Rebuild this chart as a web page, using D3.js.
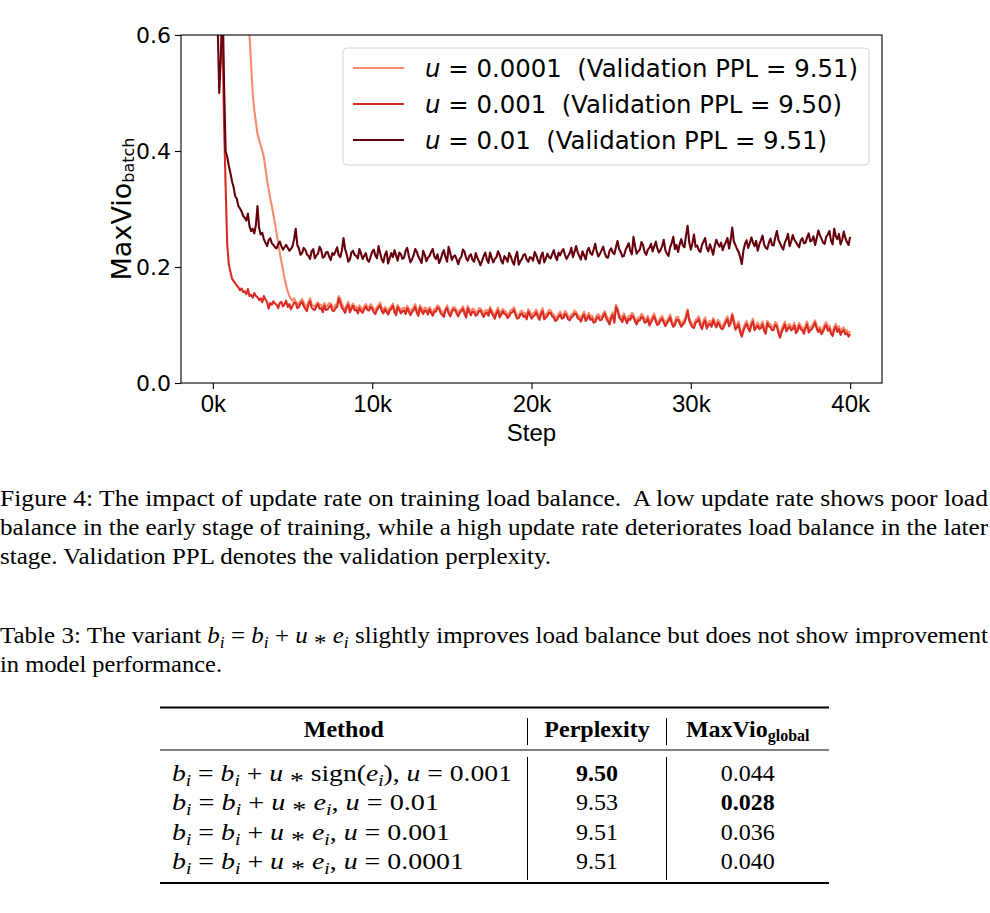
<!DOCTYPE html>
<html>
<head>
<meta charset="utf-8">
<script src="https://cdn.jsdelivr.net/npm/d3@7"></script>
<style>
  html, body { margin: 0; padding: 0; background: #fff; }
  svg { display: block; }
  text { white-space: pre; }
</style>
</head>
<body>
<div id="chart-area"></div>
<script>
// logged every 100 steps
const steps = d3.range(0, 40001, 100);

// u = 0.0001
const vioU0001 = [
  1.65, 1.60, 1.52, 1.45, 1.38, 1.30, 1.24, 1.18, 1.11, 1.05,
  0.99, 0.95, 0.90, 0.87, 0.83, 0.80, 0.76, 0.73, 0.70, 0.68,
  0.66, 0.64, 0.62, 0.60, 0.55, 0.50, 0.47, 0.45, 0.43, 0.42,
  0.41, 0.40, 0.39, 0.37, 0.35, 0.335, 0.318, 0.305, 0.29, 0.275,
  0.258, 0.242, 0.224, 0.210, 0.195, 0.181, 0.168, 0.158, 0.150, 0.145,
  0.142, 0.146,
  0.141, 0.135, 0.137, 0.142, 0.145, 0.139, 0.134, 0.131, 0.140, 0.146, 0.136, 0.133, 0.132, 0.137, 0.139, 0.134, 0.135, 0.129, 0.138, 0.132,
  0.133, 0.138, 0.137, 0.131, 0.130, 0.135, 0.136, 0.150, 0.145, 0.136, 0.131, 0.127, 0.135, 0.140, 0.128, 0.133, 0.137, 0.131, 0.132, 0.126,
  0.134, 0.129, 0.127, 0.132, 0.136, 0.131, 0.130, 0.136, 0.133, 0.127, 0.125, 0.131, 0.134, 0.139, 0.129, 0.125, 0.131, 0.128, 0.124, 0.130,
  0.132, 0.137, 0.127, 0.123, 0.135, 0.130, 0.125, 0.129, 0.130, 0.124, 0.133, 0.128, 0.122, 0.127, 0.131, 0.136, 0.126, 0.121, 0.134, 0.129,
  0.124, 0.130, 0.129, 0.123, 0.131, 0.126, 0.121, 0.128, 0.128, 0.134, 0.132, 0.125, 0.123, 0.119, 0.129, 0.134, 0.125, 0.120, 0.127, 0.131,
  0.130, 0.125, 0.120, 0.126, 0.128, 0.132, 0.124, 0.118, 0.133, 0.127, 0.122, 0.128, 0.127, 0.121, 0.123, 0.129, 0.129, 0.124, 0.119, 0.125,
  0.126, 0.121, 0.131, 0.126, 0.121, 0.116, 0.125, 0.130, 0.118, 0.123, 0.128, 0.124, 0.123, 0.117, 0.120, 0.126, 0.127, 0.131, 0.122, 0.116,
  0.117, 0.123, 0.125, 0.119, 0.121, 0.115, 0.127, 0.123, 0.116, 0.120, 0.122, 0.127, 0.119, 0.114, 0.124, 0.129, 0.115, 0.118, 0.121, 0.126,
  0.125, 0.120, 0.118, 0.112, 0.114, 0.119, 0.123, 0.116, 0.117, 0.124, 0.121, 0.115, 0.113, 0.118, 0.120, 0.125, 0.123, 0.117, 0.115, 0.111,
  0.118, 0.123, 0.112, 0.116, 0.121, 0.114, 0.116, 0.109, 0.110, 0.117, 0.119, 0.113, 0.114, 0.120, 0.124, 0.116, 0.111, 0.106, 0.117, 0.122,
  0.109, 0.135, 0.129, 0.118, 0.115, 0.110, 0.120, 0.114, 0.108, 0.116, 0.114, 0.121, 0.118, 0.111, 0.106, 0.113, 0.113, 0.119, 0.117, 0.109,
  0.110, 0.116, 0.104, 0.109, 0.115, 0.120, 0.111, 0.105, 0.107, 0.113, 0.116, 0.109, 0.103, 0.108, 0.112, 0.118, 0.108, 0.102, 0.105, 0.114,
  0.114, 0.108, 0.102, 0.106, 0.109, 0.117, 0.127, 0.112, 0.106, 0.101, 0.100, 0.109, 0.111, 0.115, 0.104, 0.098, 0.108, 0.113, 0.099, 0.105,
  0.107, 0.102, 0.112, 0.106, 0.101, 0.109, 0.105, 0.099, 0.098, 0.104, 0.110, 0.115, 0.103, 0.108, 0.120, 0.109, 0.097, 0.101, 0.106, 0.092,
  0.086, 0.095, 0.102, 0.107, 0.099, 0.094, 0.105, 0.111, 0.096, 0.100, 0.104, 0.098, 0.100, 0.106, 0.095, 0.090, 0.107, 0.103, 0.101, 0.096,
  0.097, 0.105, 0.103, 0.091, 0.083, 0.093, 0.099, 0.106, 0.094, 0.099, 0.102, 0.096, 0.098, 0.104, 0.091, 0.095, 0.104, 0.098, 0.096, 0.090,
  0.100, 0.106, 0.092, 0.096, 0.098, 0.103, 0.108, 0.099, 0.093, 0.097, 0.089, 0.094, 0.101, 0.105, 0.095, 0.099, 0.090, 0.086, 0.097, 0.102,
  0.093, 0.098, 0.088, 0.094, 0.096, 0.089, 0.091, 0.085, 0.089
];

// u = 0.001
const vioU001 = [
  0.95, 0.88, 0.85, 0.80, 0.76, 0.70, 0.62, 0.45, 0.34, 0.24,
  0.205, 0.192, 0.180, 0.176, 0.172, 0.168, 0.165, 0.160, 0.163, 0.157,
  0.158, 0.153, 0.162, 0.150, 0.152, 0.147, 0.155, 0.150, 0.148, 0.143,
  0.146, 0.139, 0.150, 0.144, 0.140, 0.128, 0.138, 0.135, 0.141, 0.137,
  0.135, 0.129, 0.138, 0.140, 0.132, 0.136, 0.142, 0.131, 0.136, 0.127,
  0.133, 0.139,
  0.138, 0.129, 0.131, 0.137, 0.140, 0.133, 0.128, 0.124, 0.135, 0.141, 0.130, 0.127, 0.126, 0.132, 0.136, 0.128, 0.129, 0.122, 0.133, 0.126,
  0.127, 0.131, 0.134, 0.125, 0.124, 0.129, 0.131, 0.146, 0.138, 0.130, 0.126, 0.121, 0.130, 0.135, 0.122, 0.128, 0.133, 0.125, 0.127, 0.120,
  0.129, 0.124, 0.121, 0.127, 0.132, 0.126, 0.125, 0.131, 0.128, 0.122, 0.119, 0.126, 0.130, 0.134, 0.124, 0.120, 0.127, 0.123, 0.118, 0.125,
  0.128, 0.133, 0.122, 0.117, 0.131, 0.126, 0.120, 0.124, 0.125, 0.119, 0.129, 0.123, 0.117, 0.122, 0.126, 0.131, 0.121, 0.116, 0.130, 0.124,
  0.119, 0.125, 0.124, 0.118, 0.127, 0.121, 0.116, 0.123, 0.123, 0.130, 0.128, 0.120, 0.118, 0.114, 0.125, 0.129, 0.120, 0.115, 0.122, 0.127,
  0.126, 0.120, 0.115, 0.121, 0.124, 0.128, 0.119, 0.113, 0.129, 0.122, 0.117, 0.123, 0.122, 0.116, 0.118, 0.124, 0.125, 0.119, 0.114, 0.120,
  0.121, 0.116, 0.127, 0.121, 0.116, 0.111, 0.120, 0.125, 0.113, 0.118, 0.124, 0.119, 0.118, 0.112, 0.115, 0.121, 0.122, 0.126, 0.117, 0.111,
  0.112, 0.118, 0.120, 0.114, 0.116, 0.110, 0.123, 0.118, 0.111, 0.115, 0.117, 0.122, 0.114, 0.109, 0.119, 0.124, 0.110, 0.113, 0.116, 0.121,
  0.121, 0.115, 0.113, 0.107, 0.109, 0.114, 0.118, 0.111, 0.112, 0.119, 0.116, 0.110, 0.108, 0.113, 0.115, 0.120, 0.119, 0.112, 0.110, 0.106,
  0.113, 0.118, 0.107, 0.111, 0.116, 0.109, 0.111, 0.104, 0.105, 0.112, 0.114, 0.108, 0.109, 0.115, 0.120, 0.111, 0.106, 0.101, 0.112, 0.117,
  0.104, 0.131, 0.126, 0.113, 0.110, 0.105, 0.115, 0.109, 0.103, 0.111, 0.109, 0.116, 0.113, 0.106, 0.101, 0.108, 0.108, 0.114, 0.112, 0.104,
  0.105, 0.111, 0.099, 0.104, 0.110, 0.115, 0.106, 0.100, 0.102, 0.108, 0.111, 0.104, 0.098, 0.103, 0.107, 0.113, 0.103, 0.097, 0.100, 0.109,
  0.109, 0.103, 0.097, 0.101, 0.104, 0.112, 0.124, 0.108, 0.101, 0.096, 0.095, 0.104, 0.106, 0.110, 0.099, 0.093, 0.103, 0.108, 0.094, 0.100,
  0.102, 0.097, 0.108, 0.101, 0.096, 0.104, 0.100, 0.094, 0.093, 0.099, 0.105, 0.110, 0.098, 0.103, 0.117, 0.104, 0.092, 0.096, 0.101, 0.087,
  0.080, 0.090, 0.097, 0.102, 0.094, 0.089, 0.100, 0.106, 0.091, 0.095, 0.099, 0.093, 0.095, 0.101, 0.090, 0.085, 0.103, 0.098, 0.096, 0.091,
  0.092, 0.100, 0.098, 0.086, 0.078, 0.088, 0.094, 0.101, 0.089, 0.094, 0.097, 0.091, 0.093, 0.099, 0.086, 0.090, 0.099, 0.093, 0.091, 0.085,
  0.095, 0.101, 0.087, 0.091, 0.093, 0.098, 0.104, 0.094, 0.088, 0.092, 0.084, 0.089, 0.096, 0.100, 0.090, 0.094, 0.085, 0.081, 0.092, 0.097,
  0.088, 0.093, 0.083, 0.089, 0.091, 0.084, 0.086, 0.080, 0.084
];

// u = 0.01
const vioU01 = [
  0.98, 0.90, 0.78, 0.62, 0.50, 0.56, 0.68, 0.52, 0.40, 0.39,
  0.375, 0.362, 0.348, 0.338, 0.322, 0.318, 0.305, 0.301, 0.296, 0.288,
  0.285, 0.280, 0.292, 0.270, 0.262, 0.266, 0.258, 0.272, 0.305, 0.268,
  0.256, 0.259, 0.248, 0.242, 0.236, 0.246, 0.250, 0.241, 0.238, 0.234,
  0.232, 0.239, 0.244, 0.236, 0.230, 0.234, 0.238, 0.233, 0.228, 0.231,
  0.236, 0.248,
  0.266, 0.238, 0.232, 0.221, 0.224, 0.233, 0.230, 0.222, 0.219, 0.214, 0.227, 0.231, 0.215, 0.220, 0.223, 0.235, 0.229, 0.216, 0.218, 0.225,
  0.226, 0.218, 0.212, 0.224, 0.221, 0.227, 0.234, 0.220, 0.217, 0.229, 0.250, 0.231, 0.222, 0.209, 0.213, 0.225, 0.228, 0.221, 0.219, 0.215,
  0.231, 0.223, 0.214, 0.219, 0.224, 0.212, 0.209, 0.218, 0.226, 0.230, 0.220, 0.215, 0.236, 0.224, 0.213, 0.208, 0.221, 0.227, 0.206, 0.215,
  0.224, 0.217, 0.229, 0.220, 0.211, 0.225, 0.222, 0.214, 0.216, 0.228, 0.233, 0.219, 0.208, 0.213, 0.220, 0.231, 0.226, 0.218, 0.213, 0.207,
  0.228, 0.221, 0.210, 0.216, 0.219, 0.226, 0.231, 0.218, 0.214, 0.222, 0.207, 0.213, 0.223, 0.229, 0.217, 0.209, 0.235, 0.224, 0.212, 0.218,
  0.220, 0.213, 0.205, 0.214, 0.218, 0.230, 0.226, 0.215, 0.211, 0.219, 0.222, 0.212, 0.209, 0.224, 0.216, 0.210, 0.203, 0.211, 0.219, 0.225,
  0.213, 0.207, 0.225, 0.216, 0.208, 0.214, 0.217, 0.227, 0.221, 0.211, 0.206, 0.219, 0.215, 0.209, 0.224, 0.218, 0.210, 0.204, 0.218, 0.226,
  0.204, 0.210, 0.214, 0.221, 0.222, 0.213, 0.209, 0.217, 0.216, 0.211, 0.226, 0.220, 0.211, 0.206, 0.219, 0.225, 0.208, 0.215, 0.223, 0.217,
  0.215, 0.222, 0.229, 0.218, 0.212, 0.225, 0.220, 0.227, 0.231, 0.221, 0.214, 0.219, 0.224, 0.233, 0.217, 0.226, 0.236, 0.225, 0.219, 0.213,
  0.227, 0.220, 0.213, 0.228, 0.233, 0.224, 0.221, 0.230, 0.240, 0.226, 0.218, 0.223, 0.229, 0.235, 0.224, 0.217, 0.216, 0.228, 0.232, 0.225,
  0.222, 0.234, 0.245, 0.231, 0.226, 0.218, 0.219, 0.229, 0.235, 0.241, 0.228, 0.222, 0.252, 0.236, 0.223, 0.227, 0.230, 0.243, 0.238, 0.226,
  0.221, 0.230, 0.233, 0.240, 0.227, 0.235, 0.244, 0.232, 0.225, 0.229, 0.236, 0.247, 0.229, 0.223, 0.219, 0.234, 0.241, 0.252, 0.231, 0.238,
  0.226, 0.239, 0.248, 0.237, 0.234, 0.255, 0.271, 0.243, 0.230, 0.241, 0.256, 0.235, 0.237, 0.229, 0.226, 0.238, 0.244, 0.250, 0.233, 0.227,
  0.239, 0.231, 0.221, 0.236, 0.247, 0.240, 0.235, 0.242, 0.229, 0.237, 0.243, 0.250, 0.232, 0.246, 0.268, 0.244, 0.238, 0.231, 0.226, 0.217,
  0.205, 0.228, 0.240, 0.246, 0.233, 0.241, 0.251, 0.242, 0.236, 0.245, 0.228, 0.239, 0.246, 0.254, 0.239, 0.233, 0.231, 0.242, 0.249, 0.238,
  0.237, 0.251, 0.262, 0.247, 0.241, 0.235, 0.230, 0.242, 0.248, 0.257, 0.236, 0.244, 0.255, 0.247, 0.243, 0.238, 0.234, 0.246, 0.250, 0.241,
  0.242, 0.251, 0.258, 0.244, 0.246, 0.253, 0.238, 0.249, 0.263, 0.255, 0.249, 0.242, 0.240, 0.252, 0.256, 0.262, 0.245, 0.239, 0.266, 0.253,
  0.248, 0.257, 0.239, 0.247, 0.261, 0.250, 0.243, 0.238, 0.252
];

const seriesU = ["0.0001", "0.001", "0.01"];
const seriesPPL = ["9.51", "9.50", "9.51"];
const seriesColors = ["#f98a6b", "#d92b24", "#67000d"];
const xTickValues = [0, 10000, 20000, 30000, 40000];
const yTickValues = [0, 0.2, 0.4, 0.6];

const figCaption = [
  "Figure 4: The impact of update rate on training load balance.  A low update rate shows poor load",
  "balance in the early stage of training, while a high update rate deteriorates load balance in the later",
  "stage. Validation PPL denotes the validation perplexity."
];
const tableCaption = [
  "Table 3: The variant b_i = b_i + u * e_i slightly improves load balance but does not show improvement",
  "in model performance."
];
const tableMethods = [
  "b_i = b_i + u * sign(e_i), u = 0.001",
  "b_i = b_i + u * e_i, u = 0.01",
  "b_i = b_i + u * e_i, u = 0.001",
  "b_i = b_i + u * e_i, u = 0.0001"
];
const tablePerplexity = ["9.50", "9.53", "9.51", "9.51"];
const tableMaxVio = ["0.044", "0.028", "0.036", "0.040"];
const boldPerplexity = [true, false, false, false];
const boldMaxVio = [false, true, false, false];

// first installed family out of a list, checked against monospace metrics
function pickFont(cands, generic) {
  const ctx = document.createElement("canvas").getContext("2d");
  const probe = "Figure 4: The impact of update rate 0123456789";
  ctx.font = "40px monospace";
  const mono = ctx.measureText(probe).width;
  for (const f of cands) {
    ctx.font = `40px '${f}', monospace`;
    if (Math.abs(ctx.measureText(probe).width - mono) > 0.5) return `'${f}', ${generic}`;
  }
  return generic;
}

const sans = "'DejaVu Sans', sans-serif";
const serif = pickFont(["Liberation Serif", "Times New Roman", "Tinos", "Nimbus Roman", "FreeSerif", "DejaVu Serif"], "serif");
const narrow = pickFont(["Liberation Sans Narrow", "Arial Narrow", "Nimbus Sans Narrow", "Liberation Sans", "Arial"], "sans-serif");

const W = 990, H = 913;
const plot = { left: 181, right: 882, top: 35, bottom: 383 };

const svg = d3.select("#chart-area").append("svg")
  .attr("width", W).attr("height", H)
  .style("background", "#fff");

const x = d3.scaleLinear().domain([-2000, 42000]).range([plot.left, plot.right]);
const y = d3.scaleLinear().domain([0, 0.6]).range([plot.bottom, plot.top]);

svg.append("clipPath").attr("id", "plot-clip")
  .append("rect")
  .attr("x", plot.left).attr("y", plot.top)
  .attr("width", plot.right - plot.left).attr("height", plot.bottom - plot.top);

const line = d3.line()
  .x((d, i) => x(steps[i]))
  .y(d => y(d));

const allSeries = [vioU0001, vioU001, vioU01];
svg.append("g").attr("clip-path", "url(#plot-clip)")
  .selectAll("path")
  .data(allSeries)
  .join("path")
  .attr("d", line)
  .attr("fill", "none")
  .attr("stroke", (d, i) => seriesColors[i])
  .attr("stroke-width", 2.1)
  .attr("stroke-linejoin", "round");

// frame
svg.append("rect")
  .attr("x", plot.left).attr("y", plot.top)
  .attr("width", plot.right - plot.left).attr("height", plot.bottom - plot.top)
  .attr("fill", "none").attr("stroke", "#000").attr("stroke-width", 1.1);

// axes
const xAxisG = svg.append("g")
  .attr("transform", `translate(0,${plot.bottom})`)
  .call(d3.axisBottom(x).tickValues(xTickValues).tickFormat(d => (d / 1000) + "k").tickSize(6).tickPadding(6));
xAxisG.select(".domain").remove();
xAxisG.selectAll("text").attr("font-family", narrow).attr("font-size", 24).attr("fill", "#000");

const yAxisG = svg.append("g")
  .attr("transform", `translate(${plot.left},0)`)
  .call(d3.axisLeft(y).tickValues(yTickValues).tickFormat(d3.format(".1f")).tickSize(6).tickPadding(4));
yAxisG.select(".domain").remove();
yAxisG.selectAll("text").attr("font-family", sans).attr("font-size", 22).attr("fill", "#000");
svg.selectAll(".tick line").attr("stroke", "#000").attr("stroke-width", 1.1);

svg.append("text")
  .attr("x", (plot.left + plot.right) / 2).attr("y", 441)
  .attr("text-anchor", "middle")
  .attr("font-family", narrow).attr("font-size", 24)
  .text("Step");

const yLabel = svg.append("text")
  .attr("transform", "translate(131,209) rotate(-90)")
  .attr("text-anchor", "middle")
  .attr("font-family", sans).attr("font-size", 27);
yLabel.append("tspan").text("MaxVio");
yLabel.append("tspan").attr("dy", 3).attr("font-size", 16).text("batch");

// legend
function fitWidth(sel, w) {
  sel.attr("textLength", w).attr("lengthAdjust", "spacingAndGlyphs");
}

const legendWidths = [433, 417, 402];
const legend = svg.append("g");
legend.append("rect")
  .attr("x", 343).attr("y", 48).attr("width", 526).attr("height", 117).attr("rx", 4)
  .attr("fill", "#fff").attr("fill-opacity", 0.8)
  .attr("stroke", "#d4d4d4").attr("stroke-width", 1);
seriesU.forEach((u, i) => {
  const ly = 68 + i * 36;
  legend.append("line")
    .attr("x1", 353).attr("x2", 404).attr("y1", ly).attr("y2", ly)
    .attr("stroke", seriesColors[i]).attr("stroke-width", 2);
  const t = legend.append("text")
    .attr("x", 425).attr("y", ly + 8.5)
    .attr("font-family", sans).attr("font-size", 24);
  t.append("tspan").attr("font-style", "italic").text("u");
  t.append("tspan").text(` = ${u}  (Validation PPL = ${seriesPPL[i]})`);
  fitWidth(t, legendWidths[i]);
});

// captions
const capWidths = [988, 988, 551];
figCaption.forEach((s, i) => {
  const t = svg.append("text")
    .attr("x", 0).attr("y", 506 + i * 29)
    .attr("font-family", serif).attr("font-size", 23.5)
    .text(s);
  fitWidth(t, capWidths[i]);
});

// renders "b_i" and a lone "u" as math italics, "*" as a centred asterisk
function mathText(t, s) {
  let shift = 0;
  const add = (txt, opts = {}) => {
    const ts = t.append("tspan").text(txt);
    const target = opts.sub ? 5 : opts.ast ? 7 : 0;
    if (target !== shift) { ts.attr("dy", target - shift); shift = target; }
    if (opts.italic) ts.attr("font-style", "italic");
    if (opts.sub) ts.attr("font-size", "0.7em");
  };
  s.split(/([a-z]_[a-z]|\bu\b|\*)/).forEach(p => {
    if (!p) return;
    if (/^[a-z]_[a-z]$/.test(p)) {
      add(p[0], { italic: true });
      add(p[2], { italic: true, sub: true });
    } else if (p === "u") {
      add("u", { italic: true });
    } else if (p === "*") {
      add("*", { ast: true });
    } else {
      add(p);
    }
  });
}

const tcapWidths = [988, 222];
tableCaption.forEach((s, i) => {
  const t = svg.append("text")
    .attr("x", 0).attr("y", 643 + i * 29)
    .attr("font-family", serif).attr("font-size", 23.5);
  mathText(t, s);
  fitWidth(t, tcapWidths[i]);
});

// table
const tbl = { left: 160, right: 829, sep1: 527.5, sep2: 666.5 };
const colMid = [(tbl.left + tbl.sep1) / 2, (tbl.sep1 + tbl.sep2) / 2, (tbl.sep2 + tbl.right) / 2];
const methodWidths = [340, 267, 278, 292];
const table = svg.append("g").attr("font-family", serif).attr("font-size", 24);

[[707.5, 1.8], [750, 1.1], [883, 1.8]].forEach(([ry, sw]) => {
  table.append("line")
    .attr("x1", tbl.left).attr("x2", tbl.right).attr("y1", ry).attr("y2", ry)
    .attr("stroke", "#000").attr("stroke-width", sw);
});
[tbl.sep1, tbl.sep2].forEach(sx => {
  table.append("line").attr("x1", sx).attr("x2", sx).attr("y1", 718).attr("y2", 745)
    .attr("stroke", "#000").attr("stroke-width", 1);
  table.append("line").attr("x1", sx).attr("x2", sx).attr("y1", 757).attr("y2", 880)
    .attr("stroke", "#000").attr("stroke-width", 1);
});

table.append("text").attr("x", colMid[0]).attr("y", 737).attr("text-anchor", "middle")
  .attr("font-weight", "bold").text("Method");
table.append("text").attr("x", colMid[1]).attr("y", 737).attr("text-anchor", "middle")
  .attr("font-weight", "bold").text("Perplexity");
const mvHead = table.append("text").attr("x", colMid[2]).attr("y", 737).attr("text-anchor", "middle")
  .attr("font-weight", "bold");
mvHead.append("tspan").text("MaxVio");
mvHead.append("tspan").attr("font-size", 16).attr("dy", 4).text("global");

tableMethods.forEach((m, i) => {
  const ry = 781 + i * 29.3;
  const t = table.append("text").attr("x", 172).attr("y", ry);
  mathText(t, m);
  fitWidth(t, methodWidths[i]);
  table.append("text").attr("x", colMid[1]).attr("y", ry).attr("text-anchor", "middle")
    .attr("font-weight", boldPerplexity[i] ? "bold" : "normal").text(tablePerplexity[i]);
  table.append("text").attr("x", colMid[2]).attr("y", ry).attr("text-anchor", "middle")
    .attr("font-weight", boldMaxVio[i] ? "bold" : "normal").text(tableMaxVio[i]);
});
</script>
</body>
</html>
